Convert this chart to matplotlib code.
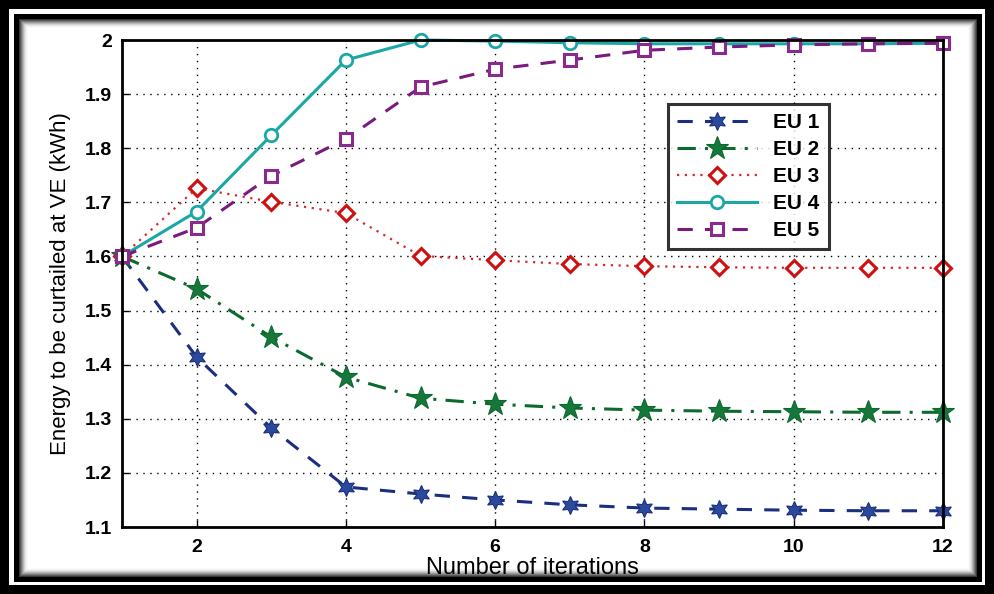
import matplotlib
matplotlib.use("Agg")
import matplotlib.pyplot as plt
from matplotlib.patches import Rectangle

plt.rcParams['font.family'] = ['Liberation Sans', 'DejaVu Sans']

iterations = list(range(1, 13))
eu1 = [1.600, 1.414, 1.283, 1.174, 1.161, 1.150, 1.141, 1.135, 1.133, 1.131, 1.130, 1.130]
eu2 = [1.600, 1.540, 1.451, 1.377, 1.338, 1.327, 1.320, 1.316, 1.314, 1.313, 1.312, 1.312]
eu3 = [1.600, 1.726, 1.701, 1.680, 1.601, 1.593, 1.586, 1.582, 1.580, 1.579, 1.579, 1.579]
eu4 = [1.600, 1.683, 1.824, 1.963, 2.000, 1.998, 1.995, 1.993, 1.993, 1.993, 1.993, 1.994]
eu5 = [1.600, 1.653, 1.749, 1.817, 1.913, 1.946, 1.963, 1.981, 1.987, 1.991, 1.993, 1.994]
labels = ['EU 1', 'EU 2', 'EU 3', 'EU 4', 'EU 5']
yticks = [1.1, 1.2, 1.3, 1.4, 1.5, 1.6, 1.7, 1.8, 1.9, 2.0]
ytick_labels = ['1.1', '1.2', '1.3', '1.4', '1.5', '1.6', '1.7', '1.8', '1.9', '2']
xticks = [2, 4, 6, 8, 10, 12]

fig = plt.figure(figsize=(9.94, 5.94), dpi=100)
fig.patch.set_facecolor('white')

# picture frame: thick outer border, white gap, inner border with a soft shadow
def frame_rect(left, bottom, right, top, color, z):
    fig.add_artist(Rectangle((left/994, bottom/594), (994 - left - right)/994,
                             (594 - bottom - top)/594, transform=fig.transFigure,
                             facecolor=color, edgecolor='none', zorder=z))

frame_rect(0, 0, 0, 0, 'black', -10)
frame_rect(9, 9, 9, 9, 'white', -9.9)
frame_rect(14, 12, 12, 14, 'black', -9.8)
shades = [0.22, 0.35, 0.48, 0.6, 0.72, 0.82, 0.9, 0.95, 0.985]
for i, g in enumerate(shades):
    p = 19 + i
    frame_rect(p, p - 2, p - 2, p, str(g), -9.7 + i * 0.05)
frame_rect(28, 26, 26, 28, 'white', -9.0)

ax = fig.add_axes([122/994, 67/594, (943 - 122)/994, (527 - 40)/594])

hexstar = (6, 1, 0)
ax.plot(iterations, eu1, color='#1b2f7e', linestyle=(0, (5, 4)), linewidth=2.2,
        marker=hexstar, markersize=13, markerfacecolor='#2c4a9c', markeredgecolor='#1b2f7e',
        markeredgewidth=0.8, label=labels[0], clip_on=False)
ax.plot(iterations, eu2, color='#0c6a2c', linestyle=(0, (6, 3, 1, 3)), linewidth=2.2,
        marker='*', markersize=17, markerfacecolor='#15773a', markeredgecolor='#0c6a2c',
        markeredgewidth=0.8, label=labels[1], clip_on=False)
ax.plot(iterations, eu3, color='#d42a2a', linestyle=(0, (1, 2.5)), linewidth=1.6,
        marker='D', markersize=8, markerfacecolor='white', markeredgecolor='#d01010',
        markeredgewidth=2.2, label=labels[2], clip_on=False)
ax.plot(iterations, eu4, color='#1aa7a5', linestyle='-', linewidth=2.2,
        marker='o', markersize=9, markerfacecolor='white', markeredgecolor='#1aa7a5',
        markeredgewidth=2.0, label=labels[3], clip_on=False)
ax.plot(iterations, eu5, color='#7a1a7e', linestyle=(0, (5, 4)), linewidth=2.2,
        marker='s', markersize=8, markerfacecolor='white', markeredgecolor='#8a2a8e',
        markeredgewidth=2.2, label=labels[4], clip_on=False)

ax.set_xlim(1, 12)
ax.set_ylim(1.1, 2.0)
ax.set_xticks(xticks)
ax.set_yticks(yticks)
ax.set_yticklabels(ytick_labels)
ax.tick_params(direction='in', length=5, width=1, labelsize=14)
ax.tick_params(axis='x', pad=9)
ax.tick_params(axis='y', pad=7)
for lab in ax.get_xticklabels() + ax.get_yticklabels():
    lab.set_fontweight('bold')
for s in ax.spines.values():
    s.set_linewidth(2)
ax.grid(True, color='black', linestyle=(0, (1, 4)), linewidth=1)

ax.set_xlabel('Number of iterations', fontsize=17, labelpad=0)
ax.set_ylabel('Energy to be curtailed at VE (kWh)', fontsize=16, labelpad=10)

leg = ax.legend(loc='upper left', bbox_to_anchor=((668 - 122) / 821, (527 - 104) / 487),
                fontsize=15, frameon=True, fancybox=False, handlelength=3.8,
                borderpad=0.45, labelspacing=0.38, handletextpad=0.8, borderaxespad=0)
leg.get_frame().set_edgecolor('black')
leg.get_frame().set_linewidth(2.2)
for t in leg.get_texts():
    t.set_fontweight('bold')

fig.savefig('out.png', dpi=100)
